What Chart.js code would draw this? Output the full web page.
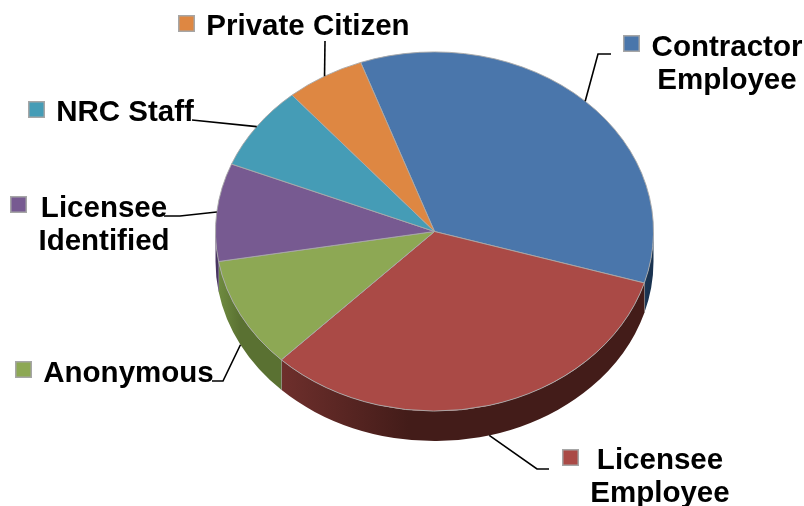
<!DOCTYPE html>
<html>
<head>
<meta charset="utf-8">
<title>Allegation sources</title>
<script src="https://cdn.jsdelivr.net/npm/chart.js@4/dist/chart.umd.min.js"></script>
<style>
  html, body { margin: 0; padding: 0; background: #fff; }
  canvas { display: block; }
</style>
</head>
<body>
<canvas id="pieChart" width="804" height="506"></canvas>
<script>
const categories = [
  ["Contractor", "Employee"],
  ["Licensee", "Employee"],
  ["Anonymous"],
  ["Licensee", "Identified"],
  ["NRC Staff"],
  ["Private Citizen"]
];
const shares = [35.1, 32.7, 10.0, 8.8, 7.6, 5.8];

const sliceColors = ["#4a76ab", "#aa4a46", "#8da854", "#775a91", "#459cb6", "#de8742"];
// side wall shades, left then right
const wallColors = [
  ["#1d3a5a", "#1a3350"],
  ["#6e2f2c", "#431c19"],
  ["#6f8b40", "#5a7132"],
  ["#4f3a66", "#483460"],
  ["#2c6577", "#2c6577"],
  ["#8f5526", "#8f5526"]
];

const FLATTEN = 0.82;
const DEPTH = 30;
const FONT = "bold 29.5px 'Liberation Sans', Arial, sans-serif";

// key box, text lines (center x, first baseline) and leader bends per slice
const labelLayout = [
  { key: [623, 35], textX: 727, textY: 56, bends: [[598, 54], [611, 54]] },
  { key: [562, 449], textX: 660, textY: 469, bends: [[537, 469], [549, 469]] },
  { key: [15, 361], textX: 128.5, textY: 382, bends: [[223, 381], [212, 381]] },
  { key: [10, 196], textX: 104, textY: 217, bends: [[180, 216], [164, 216]] },
  { key: [28, 101], textX: 125, textY: 121, bends: [[192, 120]] },
  { key: [178, 15], textX: 308, textY: 35, bends: [[325, 41]] }
];

// side of the pie, has to go down before the top face
function drawWalls(chart) {
  const ctx = chart.ctx;
  const arcs = chart.getDatasetMeta(0).data;
  arcs.forEach((arc, i) => {
    const a1 = Math.max(arc.startAngle, 0);
    const a2 = Math.min(arc.endAngle, Math.PI);
    if (a2 <= a1) return;
    const rx = arc.outerRadius;
    const ry = rx * FLATTEN;
    const xA = arc.x + rx * Math.cos(a1);
    const xB = arc.x + rx * Math.cos(a2);
    const grad = ctx.createLinearGradient(Math.min(xA, xB), 0, Math.max(xA, xB), 0);
    grad.addColorStop(0, wallColors[i][0]);
    grad.addColorStop(0.35, wallColors[i][1]);
    grad.addColorStop(1, wallColors[i][1]);

    ctx.save();
    ctx.beginPath();
    ctx.ellipse(arc.x, arc.y, rx, ry, 0, a1, a2);
    ctx.ellipse(arc.x, arc.y + DEPTH, rx, ry, 0, a2, a1, true);
    ctx.closePath();
    ctx.fillStyle = grad;
    ctx.fill();

    // seam where two walls meet
    const yB = arc.y + ry * Math.sin(a2);
    if (a2 < Math.PI) {
      ctx.beginPath();
      ctx.moveTo(xB, yB);
      ctx.lineTo(xB, yB + DEPTH);
      ctx.strokeStyle = "#a6a6a6";
      ctx.lineWidth = 1;
      ctx.stroke();
    }
    ctx.restore();
  });
}

function drawLabels(chart) {
  const ctx = chart.ctx;
  const arcs = chart.getDatasetMeta(0).data;
  ctx.save();
  arcs.forEach((arc, i) => {
    const place = labelLayout[i];
    const mid = (arc.startAngle + arc.endAngle) / 2;
    const rx = arc.outerRadius;
    let y = arc.y + rx * FLATTEN * Math.sin(mid);
    if (Math.sin(mid) > 0) y += DEPTH;

    // leader line from the rim of the slice
    ctx.beginPath();
    ctx.moveTo(arc.x + rx * Math.cos(mid), y);
    place.bends.forEach(p => ctx.lineTo(p[0], p[1]));
    ctx.strokeStyle = "#000";
    ctx.lineWidth = 1.6;
    ctx.stroke();

    // key box
    ctx.fillStyle = "#a6a6a6";
    ctx.fillRect(place.key[0], place.key[1], 17, 17);
    ctx.fillStyle = sliceColors[i];
    ctx.fillRect(place.key[0] + 1.5, place.key[1] + 1.5, 14, 14);

    ctx.font = FONT;
    ctx.fillStyle = "#000";
    ctx.textAlign = "center";
    ctx.textBaseline = "alphabetic";
    categories[i].forEach((line, n) => {
      ctx.fillText(line, place.textX, place.textY + n * 33);
    });
  });
  ctx.restore();
}

const flatPie = {
  id: "flatPie",
  beforeDatasetsDraw(chart) {
    drawWalls(chart);
    const arc = chart.getDatasetMeta(0).data[0];
    chart.ctx.save();
    chart.ctx.translate(arc.x, arc.y);
    chart.ctx.scale(1, FLATTEN);
    chart.ctx.translate(-arc.x, -arc.y);
  },
  afterDatasetsDraw(chart) {
    chart.ctx.restore();
    drawLabels(chart);
  }
};

new Chart(document.getElementById("pieChart").getContext("2d"), {
  type: "pie",
  data: {
    labels: categories,
    datasets: [{
      data: shares,
      backgroundColor: sliceColors,
      borderColor: "#a9a9a9",
      borderWidth: 1
    }]
  },
  options: {
    responsive: false,
    animation: false,
    rotation: -19.7,
    layout: { padding: { left: 215, right: 150, top: 12, bottom: 55 } },
    plugins: { legend: { display: false }, tooltip: { enabled: false } }
  },
  plugins: [flatPie]
});
</script>
</body>
</html>
